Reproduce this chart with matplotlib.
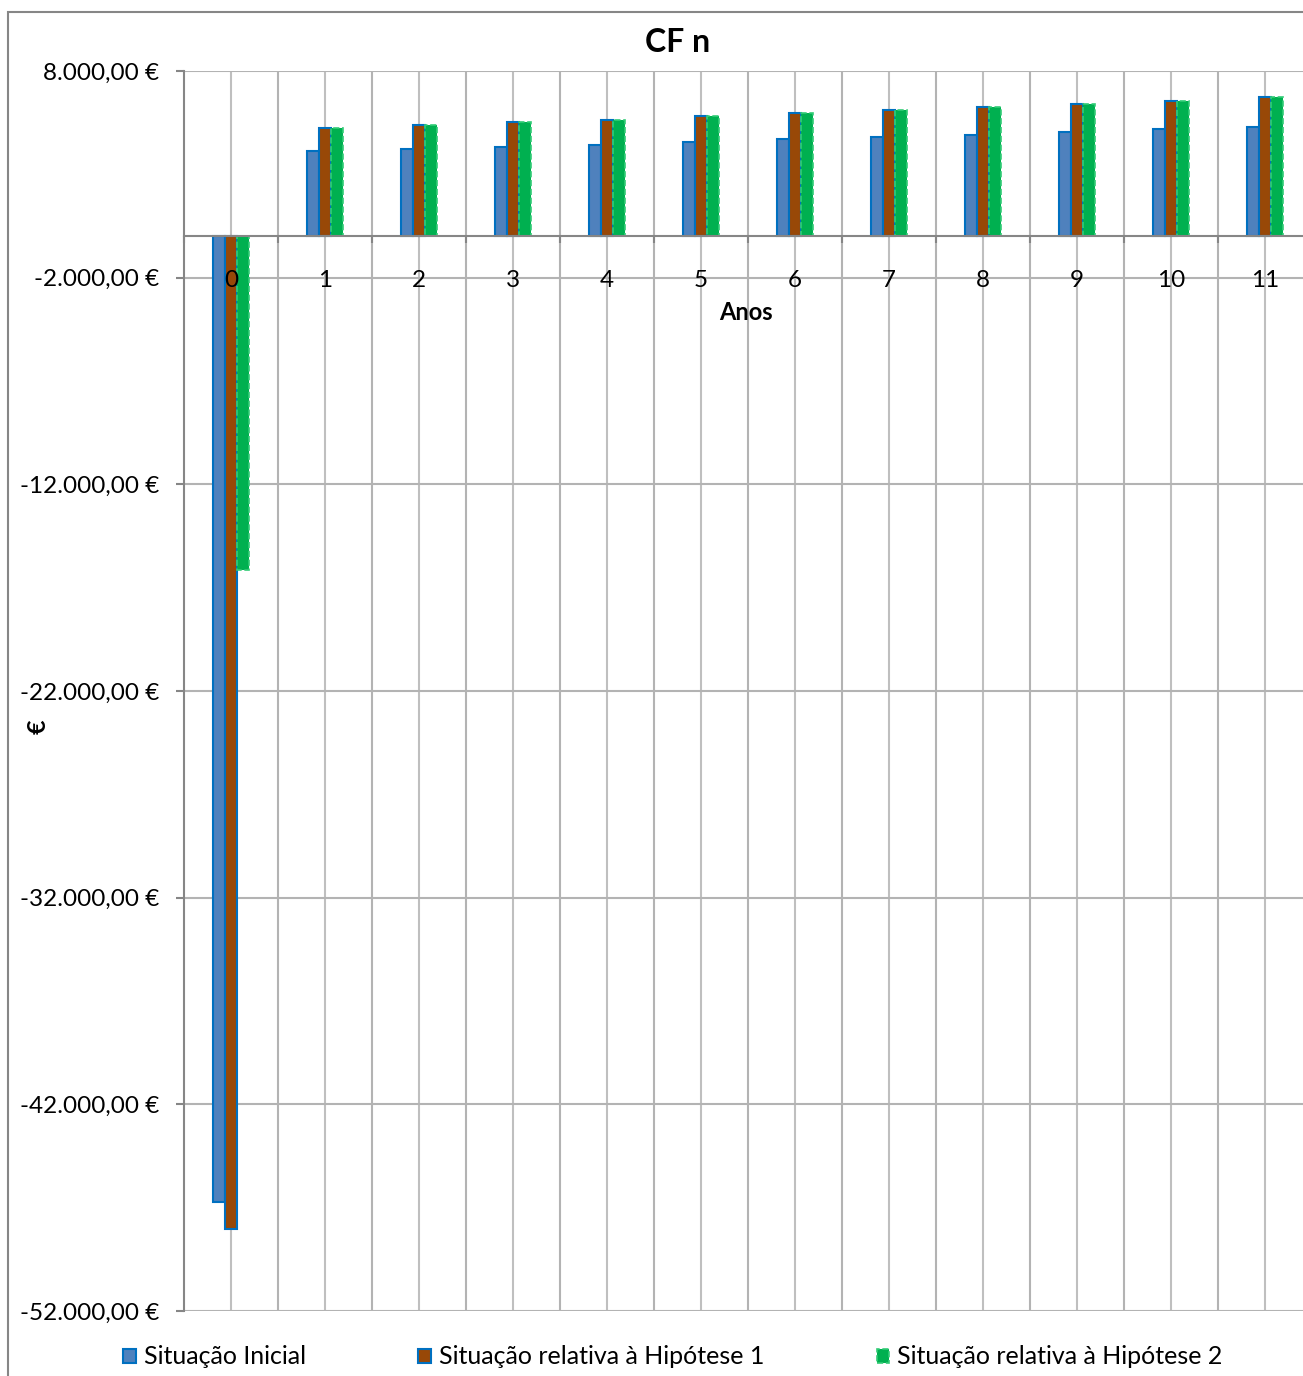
import matplotlib
matplotlib.use("Agg")
from matplotlib import pyplot as plt
from matplotlib.patches import Rectangle
from matplotlib.ticker import FuncFormatter
import numpy as np

plt.rcParams["font.family"] = ["Lato", "DejaVu Sans"]

# data
anos = list(range(12))
situacao_inicial = [-46720, 4140, 4220, 4330, 4430, 4580, 4690, 4790, 4920, 5050, 5180, 5290]
hipotese_1 = [-48010, 5240, 5370, 5530, 5640, 5810, 5950, 6100, 6240, 6420, 6560, 6740]
hipotese_2 = [-16140, 5240, 5370, 5530, 5640, 5810, 5950, 6100, 6240, 6420, 6560, 6740]
series_names = ["Situação Inicial", "Situação relativa à Hipótese 1", "Situação relativa à Hipótese 2"]
y_ticks = [8000, -2000, -12000, -22000, -32000, -42000, -52000]

W, H = 1303, 1376
fig = plt.figure(figsize=(W / 100, H / 100), dpi=100)

# outer chart frame
fig.patches.append(Rectangle((8 / W, -0.05), 1.2, 1.05 - 12 / H, transform=fig.transFigure,
                             fill=False, edgecolor="#868686", linewidth=1.5))

ax = fig.add_axes([184 / W, 1 - 1311 / H, 1128 / W, 1240 / H])

x = np.arange(len(anos))
bw = 0.128
ax.bar(x - bw, situacao_inicial, bw, color="#4F81BD", edgecolor="#0070C0", linewidth=1.5,
       label=series_names[0], zorder=3)
ax.bar(x, hipotese_1, bw, color="#984807", edgecolor="#0070C0", linewidth=1.5,
       label=series_names[1], zorder=3)
ax.bar(x + bw, hipotese_2, bw, color="#00B050", edgecolor="#33CC77", linewidth=1.2,
       linestyle="--", label=series_names[2], zorder=3)

ax.set_xlim(-0.5, 11.5)
ax.set_ylim(-52000, 8000)

# gridlines: horizontal at major y ticks, vertical at centers and boundaries
ax.set_yticks(y_ticks)
ax.yaxis.set_major_formatter(FuncFormatter(
    lambda v, p: "{:,.2f}".format(v).replace(",", "X").replace(".", ",").replace("X", ".") + " €"))
ax.grid(axis="y", color="#B3B3B3", linewidth=1.5, zorder=0)
for xc in x:
    ax.axvline(xc, color="#BFBFBF", linewidth=1.5, zorder=0)
for xb in np.arange(-0.5, 12, 1.0)[1:]:
    ax.axvline(xb, color="#B3B3B3", linewidth=1.5, zorder=0)

ax.spines["top"].set_visible(False)
ax.spines["right"].set_visible(False)
ax.spines["left"].set_color("#868686")
ax.spines["left"].set_linewidth(1.5)
ax.spines["bottom"].set_position(("data", 0))
ax.spines["bottom"].set_color("#868686")
ax.spines["bottom"].set_linewidth(1.5)
ax.spines["bottom"].set_zorder(4)

ax.set_xticks(np.arange(-0.5, 12, 1.0))
ax.set_xticklabels([])
ax.tick_params(axis="x", which="major", direction="out", length=5, color="#868686", width=1.5)
ax.set_xticks(x, minor=True)
ax.set_xticklabels([str(a) for a in anos], minor=True)
ax.tick_params(axis="x", which="minor", length=0, pad=24, labelsize=17.5)
ax.tick_params(axis="y", direction="out", length=6, color="#868686", width=1.5,
               pad=12, labelsize=17.5)
ax.xaxis.set_zorder(5)  # year labels sit on top of the year-0 bars

fig.text(678 / W, 1 - 42 / H, "CF n", ha="center", va="center", fontsize=23, fontweight="bold")
fig.text(746 / W, 1 - 313 / H, "Anos", ha="center", va="center", fontsize=17, fontweight="bold")
fig.text(38 / W, 1 - 727 / H, "€", ha="center", va="center", fontsize=18, fontweight="bold",
         rotation=90)

fig.legend(loc="center left", bbox_to_anchor=(123 / W, 1 - 1357 / H), ncol=3, frameon=False,
           fontsize=18, handlelength=0.5, handleheight=0.5, handletextpad=0.32,
           columnspacing=4.5, borderpad=0, borderaxespad=0)

fig.savefig("out.png", dpi=100)
